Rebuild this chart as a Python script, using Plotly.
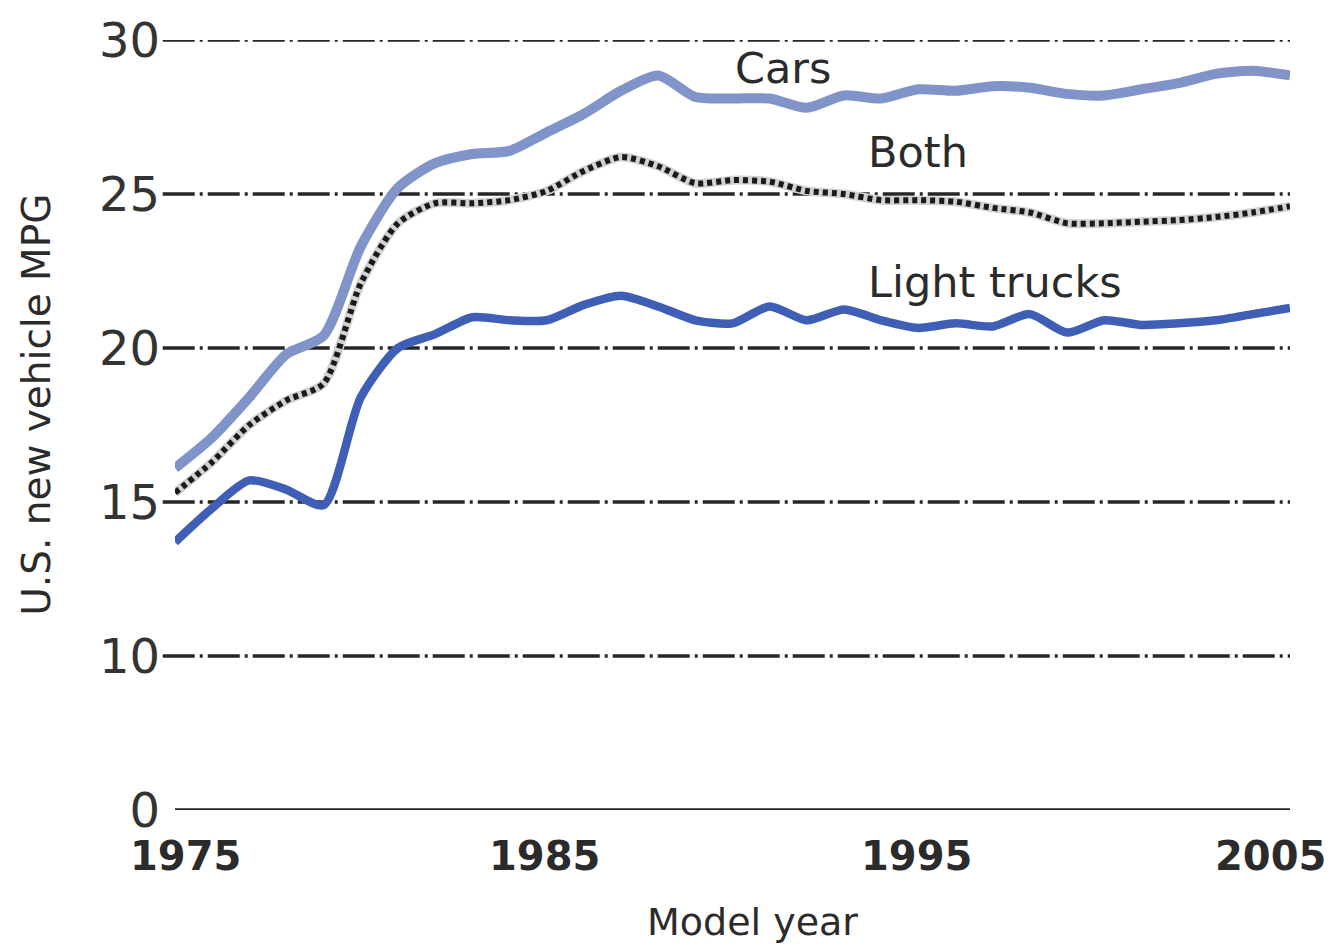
import plotly.graph_objects as go

# model years and fuel economy (MPG)
years = list(range(1975, 2006))
cars = [16.1, 17.1, 18.4, 19.8, 20.4, 23.3, 25.2, 26.0, 26.3, 26.4, 27.0, 27.6,
        28.35, 28.85, 28.15, 28.1, 28.1, 27.8, 28.2, 28.1, 28.4, 28.35, 28.5,
        28.45, 28.25, 28.2, 28.4, 28.6, 28.9, 29.0, 28.85]
both = [15.3, 16.3, 17.5, 18.3, 18.85, 22.1, 24.05, 24.7, 24.7, 24.8, 25.1, 25.75,
        26.2, 25.9, 25.35, 25.45, 25.4, 25.1, 25.0, 24.8, 24.8, 24.75, 24.55,
        24.4, 24.05, 24.05, 24.1, 24.15, 24.25, 24.4, 24.6]
trucks = [13.7, 14.8, 15.7, 15.4, 14.9, 18.4, 20.0, 20.45, 21.0, 20.9, 20.9, 21.4,
          21.7, 21.35, 20.9, 20.8, 21.35, 20.9, 21.25, 20.9, 20.65, 20.8, 20.7,
          21.1, 20.5, 20.9, 20.75, 20.8, 20.9, 21.1, 21.3]

# the value axis is broken: the bottom line stands for 0
y_ticks = [5, 10, 15, 20, 25, 30]
y_labels = ["0", "10", "15", "20", "25", "30"]
x_ticks = [1975, 1985, 1995, 2005]

FONT = "DejaVu Sans"
INK = "#2b2b2b"

fig = go.Figure()
fig.add_trace(go.Scatter(
    x=years, y=cars, mode="lines", name="Cars",
    line=dict(color="#8094c9", width=10, shape="spline", smoothing=0.7),
))
fig.add_trace(go.Scatter(
    x=years, y=trucks, mode="lines", name="Light trucks",
    line=dict(color="#3f5fb7", width=8.5, shape="spline", smoothing=0.7),
))
# soft grey underlay under the dotted "Both" line
fig.add_trace(go.Scatter(
    x=years, y=both, mode="lines", hoverinfo="skip",
    line=dict(color="#d2d2d2", width=9, shape="spline", smoothing=0.7),
))
fig.add_trace(go.Scatter(
    x=years, y=both, mode="lines", name="Both",
    line=dict(color="#1a1a1a", width=6, dash="5px,4px", shape="spline", smoothing=0.7),
))

# dash-dot grid lines, solid base line
for v in y_ticks:
    fig.add_shape(
        type="line", xref="paper", yref="y", layer="below",
        x0=0 if v == y_ticks[0] else -0.011, x1=1, y0=v, y1=v,
        line=dict(color="#262626", width=3.5,
                  dash="solid" if v == y_ticks[0] else "32px,5px,3px,5px"),
    )

# x tick labels, edge labels pulled inward as in the original
shifts = {1975: 10, 1985: -2, 1995: -2, 2005: -20}
for yr in x_ticks:
    fig.add_annotation(
        x=yr, y=-0.06, xref="x", yref="paper", text=str(yr), showarrow=False,
        xanchor="center", yanchor="middle", xshift=shifts[yr],
        font=dict(family=FONT, size=40, color=INK, weight="bold"),
    )

# series labels
fig.add_annotation(x=1991.35, y=29.1, text="Cars", showarrow=False,
                   xanchor="center", yanchor="middle",
                   font=dict(family=FONT, size=43, color=INK))
fig.add_annotation(x=1993.6, y=26.35, text="Both", showarrow=False,
                   xanchor="left", yanchor="middle",
                   font=dict(family=FONT, size=43, color=INK))
fig.add_annotation(x=1993.6, y=22.15, text="Light trucks", showarrow=False,
                   xanchor="left", yanchor="middle",
                   font=dict(family=FONT, size=43, color=INK))

# axis titles
fig.add_annotation(x=-0.124, y=0.526, xref="paper", yref="paper",
                   text="U.S. new vehicle MPG", textangle=-90, showarrow=False,
                   xanchor="center", yanchor="middle",
                   font=dict(family=FONT, size=39, color=INK))
fig.add_annotation(x=0.5175, y=-0.146, xref="paper", yref="paper",
                   text="Model year", showarrow=False,
                   xanchor="center", yanchor="middle",
                   font=dict(family=FONT, size=38, color=INK))

# page body has an 8px margin, so the figure is trimmed by that much
fig.update_layout(
    width=1327, height=938,
    margin=dict(l=167, r=45, t=32, b=136),
    paper_bgcolor="white", plot_bgcolor="white",
    showlegend=False,
    font=dict(family=FONT, color=INK),
)
fig.update_xaxes(
    range=[1975, 2005], showgrid=False, zeroline=False, showline=False,
    showticklabels=False, ticks="", automargin=False,
)
fig.update_yaxes(
    range=[5, 30], tickvals=y_ticks, ticktext=y_labels,
    showgrid=False, zeroline=False, showline=False, ticks="",
    tickfont=dict(family=FONT, size=48, color="#333333"),
    ticklabelstandoff=14, automargin=False,
)

fig.write_html("out.html")
